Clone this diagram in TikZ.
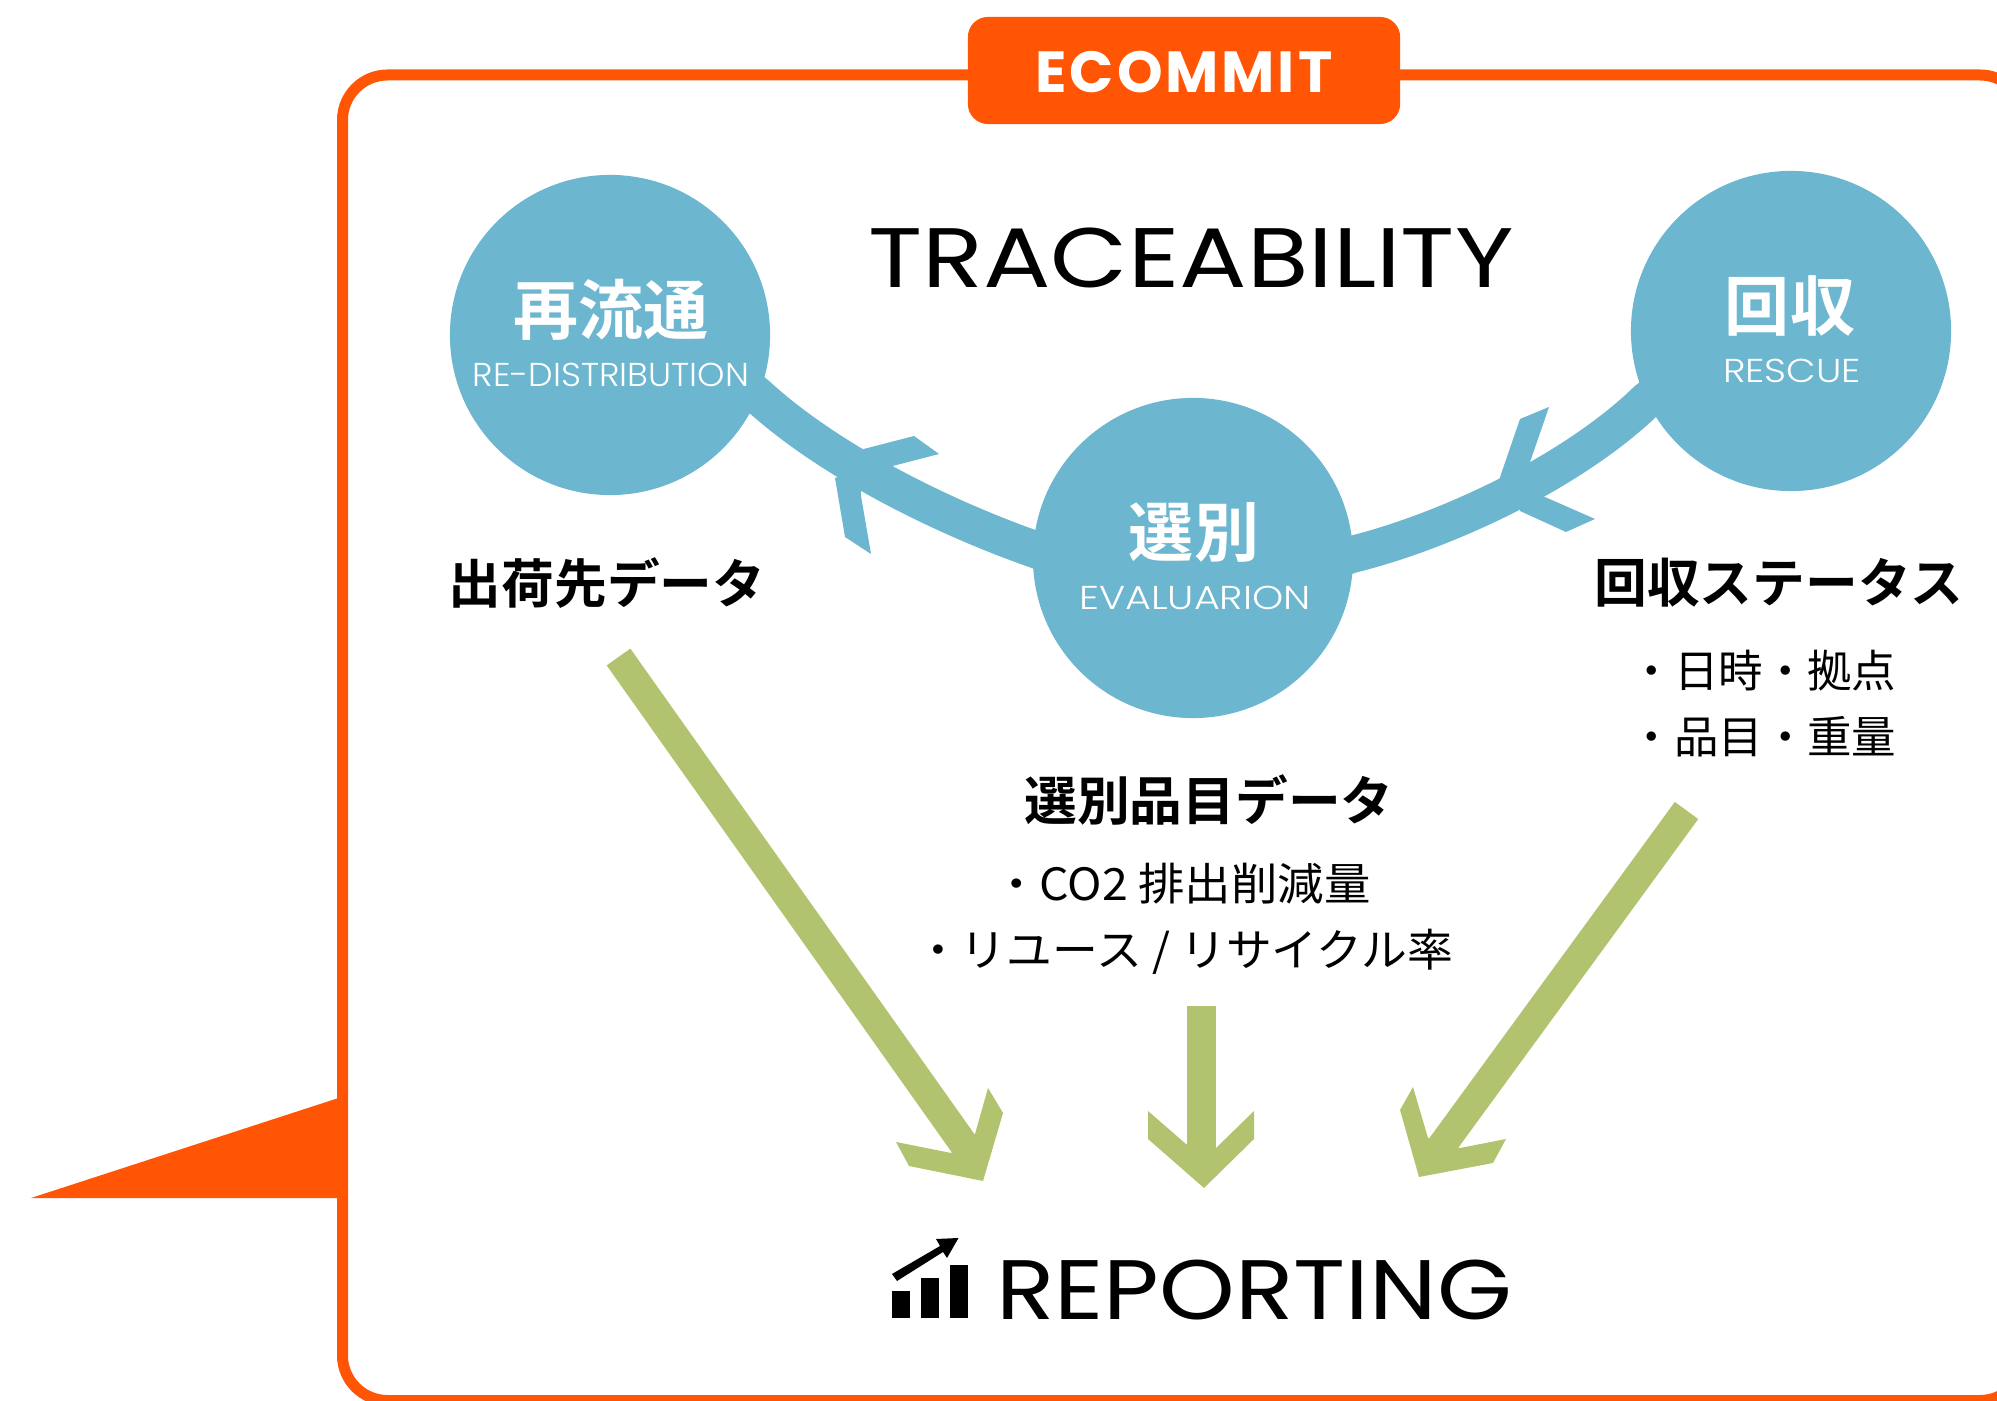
\documentclass[tikz,border=0pt]{standalone}
\usepackage{fontspec}
\setmainfont{Poppins}
\newfontfamily\latinlight{Poppins Light}
\newfontfamily\latinbold{Poppins}[UprightFont=* Bold,LetterSpace=5]
\newfontfamily\jpfont{Noto Sans CJK JP}[BoldFont=* Bold]
\usetikzlibrary{positioning}
\usetikzlibrary{backgrounds}

\definecolor{ecoorange}{HTML}{FF5505}
\definecolor{stepblue}{HTML}{6CB6CF}
\definecolor{reportgreen}{HTML}{B2C36F}

\tikzset{
  stepcircle/.style={circle,fill=stepblue,inner sep=0pt,minimum size=3.2cm},
  steptitle/.style={text=white,font=\jpfont\bfseries\fontsize{18.5}{20}\selectfont,inner sep=0pt},
  stepsub/.style={text=white,font=\latinlight\fontsize{9.4}{11}\selectfont,inner sep=0pt},
  datahead/.style={font=\jpfont\bfseries\fontsize{15}{17}\selectfont,inner sep=0pt},
  dataline/.style={font=\jpfont\fontsize{12.65}{15}\selectfont,inner sep=0pt},
  bigword/.style={font=\fontsize{24}{28}\selectfont,inner sep=0pt},
  cycleband/.style={draw=stepblue,line width=0.37cm},
  reportshaft/.style={draw=reportgreen,line width=0.29cm}
}

\begin{document}
\begin{tikzpicture}[x=0.01cm,y=-0.01cm]
\useasboundingbox (0,0) rectangle (1997,1401);
\clip (0,0) rectangle (1997,1401);

% frame with pointer
\draw[ecoorange,line width=0.11cm,rounded corners=0.45cm] (342.5,75) rectangle (2025,1400.5);
\fill[ecoorange] (31,1198) -- (337,1098.5) -- (345,1098.5) -- (345,1198) -- cycle;
\node[fill=ecoorange,rounded corners=0.2cm,minimum width=4.32cm,minimum height=1.07cm,inner sep=0pt] (badge) at (1184,70.5) {};
\node[text=white,inner sep=0pt,font=\latinbold\fontsize{16.5}{18}\selectfont] (badgetext) at (1184,72) {ECOMMIT};

\node[bigword] (trace) at (1191,258) {\scalebox{1.186}[1]{TRACEABILITY}};

% the three steps
\node[stepcircle] (redist) at (610,335) {};
\node[stepcircle] (rescue) at (1791,331) {};
\node[stepcircle] (evalu) at (1193,558) {};

\node[steptitle] (redisttitle) at (611,310) {再流通};
\node[stepsub] (redistsub) at (611,375) {\scalebox{1.054}[1]{RE-DISTRIBUTION}};
\node[steptitle] (rescuetitle) at (1790,306) {回収};
\node[stepsub] (rescuesub) at (1792,371) {\scalebox{1.16}[1]{RESCUE}};
\node[steptitle] (evalutitle) at (1194,533) {選別};
\node[stepsub] (evalusub) at (1195,598) {\scalebox{1.2}[1]{EVALUARION}};

% bands between the steps
\begin{scope}[on background layer]
\draw[cycleband] (rescue.center) -- (1670,382) -- (1647,400) .. controls (1575,470) and (1450,530) .. (1352,554.5) -- (1316,566) -- (evalu.center);
\draw[cycleband] (evalu.center) -- (1070,562) -- (1035,549.5) .. controls (945,518) and (830,462) .. (757,395) -- (735,377) -- (redist.center);
\end{scope}
\fill[stepblue] (885,468) -- (939,454) -- (914,436) -- (856,451) -- (860,480) -- cycle;
\fill[stepblue] (835,478) -- (845,537) -- (871,554) -- (861,496) -- (860,470) -- cycle;
\fill[stepblue] (1529,465) -- (1549,407) -- (1520,419) -- (1498,483) -- (1520,490) -- cycle;
\fill[stepblue] (1520,511) -- (1566,532) -- (1595,519) -- (1545,497) -- (1520,490) -- cycle;

% data
\node[datahead] (redistdata) at (607,583) {出荷先データ};
\node[datahead] (rescuedata) at (1779,583) {回収ステータス};
\node[dataline] (rescueone) at (1763,671) {・日時・拠点};
\node[dataline] (rescuetwo) at (1763,737) {・品目・重量};
\node[datahead] (evaludata) at (1209,800) {選別品目データ};
\node[dataline] (evaluone) at (1182,884) {\scalebox{1.044}[1]{・CO2 排出削減量}};
\node[dataline] (evalutwo) at (1184,952) {\scalebox{1.03}[1]{・リユース / リサイクル率}};

% arrows to the report
\coordinate (fromredist) at (618.5,657);
\coordinate (toredist) at (970,1153);
\coordinate (fromevalu) at (1201,1006);
\coordinate (toevalu) at (1201,1170);
\coordinate (fromrescue) at (1686.5,810.5);
\coordinate (torescue) at (1435,1155);
\draw[reportshaft] (fromredist) -- (toredist);
\draw[reportshaft] (fromevalu) -- (toevalu);
\draw[reportshaft] (fromrescue) -- (torescue);
\fill[reportgreen] (975,1134) -- (988,1088) -- (1003,1113) -- (983,1181) -- (909,1166) -- (896,1142) -- (951,1153) -- cycle;
\fill[reportgreen] (1186,1144) -- (1148,1111) -- (1148,1139) -- (1204,1188) -- (1254,1139) -- (1254,1111) -- (1216,1148) -- cycle;
\fill[reportgreen] (1428,1138) -- (1413,1087) -- (1400,1110) -- (1419,1177) -- (1493,1163) -- (1506,1139) -- (1460,1148) -- cycle;

% report
\node[bigword] (report) at (1254,1290) {\scalebox{1.14}[1]{REPORTING}};
\fill (891.5,1291) rectangle (909.5,1318);
\fill (920.5,1278) rectangle (938.5,1318);
\fill (950,1265) rectangle (968,1318);
\fill (892,1274) -- (940,1246) -- (936,1239) -- (958.5,1238) -- (947,1258) -- (943,1252) -- (897,1281) -- cycle;
\end{tikzpicture}
\end{document}
